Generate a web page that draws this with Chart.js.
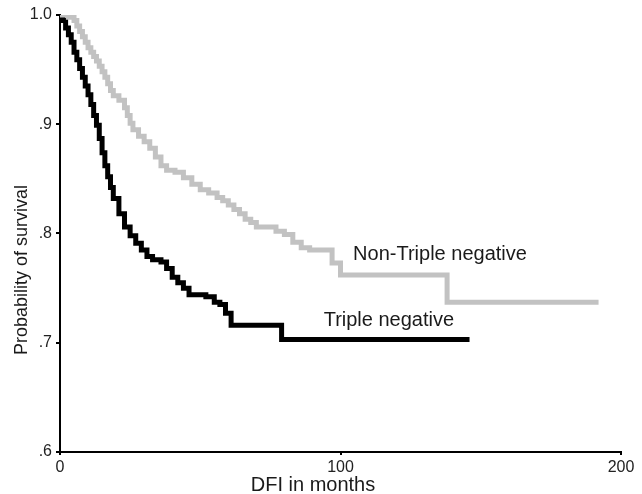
<!DOCTYPE html>
<html>
<head>
<meta charset="utf-8">
<script src="https://cdn.jsdelivr.net/npm/chart.js@4.4.1/dist/chart.umd.min.js"></script>
<style>
  html, body { margin: 0; padding: 0; background: #fff; }
  #wrap { width: 642px; height: 494px; }
</style>
</head>
<body>
<div id="wrap"><canvas id="km"></canvas></div>
<script>
// =====================
// DATA
// =====================
const tripleMonths = [0, 1, 2, 3, 4, 5, 6, 7, 8, 9, 10, 11, 12, 13, 14, 15, 16, 17, 18, 19, 21, 23, 25, 27, 29, 31, 33, 36, 38, 40, 42, 44, 46, 52, 55, 57, 59, 61, 79, 146];
const tripleSurv   = [1.0, 0.995, 0.988, 0.982, 0.975, 0.966, 0.959, 0.951, 0.943, 0.935, 0.927, 0.918, 0.908, 0.899, 0.887, 0.874, 0.862, 0.852, 0.842, 0.832, 0.818, 0.806, 0.798, 0.791, 0.785, 0.779, 0.776, 0.774, 0.768, 0.760, 0.755, 0.750, 0.744, 0.742, 0.737, 0.735, 0.727, 0.716, 0.703, 0.703];

const nonTripleMonths = [0, 3, 5, 6, 7, 8, 9, 10, 11, 12, 13, 14, 15, 16, 17, 18, 19, 21, 23, 24, 25, 26, 28, 30, 32, 34, 36, 38, 41, 44, 47, 50, 53, 56, 58, 60, 62, 64, 66, 68, 70, 77, 80, 83, 86, 89, 97, 100, 138, 192];
const nonTripleSurv   = [1.0, 0.998, 0.995, 0.990, 0.985, 0.980, 0.975, 0.970, 0.966, 0.962, 0.958, 0.953, 0.948, 0.943, 0.937, 0.931, 0.926, 0.922, 0.915, 0.908, 0.901, 0.895, 0.889, 0.884, 0.878, 0.870, 0.862, 0.858, 0.856, 0.851, 0.845, 0.840, 0.837, 0.833, 0.830, 0.826, 0.822, 0.818, 0.813, 0.810, 0.806, 0.802, 0.799, 0.792, 0.787, 0.785, 0.773, 0.762, 0.737, 0.737];

const seriesNames = ["Non-Triple negative", "Triple negative"];
const xTicks = [0, 100, 200];
const yTicks = [0.6, 0.7, 0.8, 0.9, 1.0];
const yTickLabels = [".6", ".7", ".8", ".9", "1.0"];
const xTitle = "DFI in months";
const yTitle = "Probability of survival";

// label anchors in data units (months, survival)
const labelAt = [[104.5, 0.776], [94, 0.7155]];

// =====================
// HELPER
// =====================
function toPoints(xs, ys) {
  return xs.map((x, i) => ({ x: x, y: ys[i] }));
}

// text drawn on the canvas: curve labels and axis titles
const textPlugin = {
  id: "kmText",
  afterDraw(chart) {
    const ctx = chart.ctx;
    const xs = chart.scales.x, ys = chart.scales.y;
    ctx.save();
    ctx.fillStyle = "#1a1a1a";
    ctx.font = "20px 'Liberation Sans', Arial, sans-serif";
    ctx.textBaseline = "alphabetic";
    ctx.textAlign = "left";
    seriesNames.forEach((name, i) => {
      ctx.fillText(name, xs.getPixelForValue(labelAt[i][0]), ys.getPixelForValue(labelAt[i][1]));
    });
    // x title
    ctx.textAlign = "center";
    ctx.fillText(xTitle, 313, 491);
    // y title
    ctx.font = "18px 'Liberation Sans', Arial, sans-serif";
    ctx.translate(27, 270);
    ctx.rotate(-Math.PI / 2);
    ctx.fillText(yTitle, 0, 0);
    ctx.restore();
  }
};

// =====================
// CHART
// =====================
const ctx = document.getElementById("km").getContext("2d");
new Chart(ctx, {
  type: "line",
  data: {
    datasets: [
      {
        label: seriesNames[0],
        data: toPoints(nonTripleMonths, nonTripleSurv),
        borderColor: "#c2c2c2",
        borderWidth: 5,
        stepped: "before",
        pointRadius: 0,
        fill: false
      },
      {
        label: seriesNames[1],
        data: toPoints(tripleMonths, tripleSurv),
        borderColor: "#000000",
        borderWidth: 5,
        stepped: "before",
        pointRadius: 0,
        fill: false
      }
    ]
  },
  options: {
    responsive: true,
    maintainAspectRatio: false,
    animation: false,
    layout: { padding: { top: 15, right: 21, left: 0, bottom: 0 } },
    plugins: { legend: { display: false }, tooltip: { enabled: false } },
    scales: {
      x: {
        type: "linear",
        min: 0,
        max: 200,
        afterFit: s => { s.height = 42; },
        afterBuildTicks: s => { s.ticks = xTicks.map(v => ({ value: v })); },
        grid: { drawOnChartArea: false, drawTicks: true, tickLength: 3, color: "#000", lineWidth: 2 },
        border: { color: "#000", width: 2 },
        ticks: {
          padding: 3,
          color: "#222",
          font: { family: "'Liberation Sans', Arial, sans-serif", size: 16 },
          maxRotation: 0
        }
      },
      y: {
        type: "linear",
        min: 0.6,
        max: 1.0,
        afterFit: s => { s.width = 60; },
        afterBuildTicks: s => { s.ticks = yTicks.map(v => ({ value: v })); },
        grid: { drawOnChartArea: false, drawTicks: true, tickLength: 4, color: "#000", lineWidth: 2 },
        border: { color: "#000", width: 2 },
        ticks: {
          padding: 4,
          color: "#222",
          font: { family: "'Liberation Sans', Arial, sans-serif", size: 16 },
          callback: (v) => yTickLabels[yTicks.findIndex(t => Math.abs(t - v) < 1e-9)]
        }
      }
    }
  },
  plugins: [textPlugin]
});
</script>
</body>
</html>
